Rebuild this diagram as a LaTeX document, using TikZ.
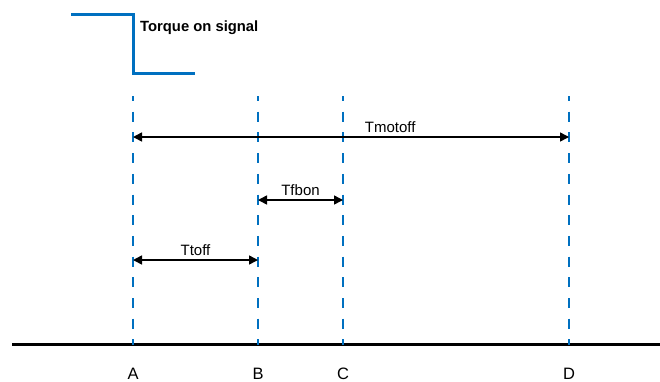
\documentclass[tikz,border=0pt]{standalone}
\usepackage{fontspec}
\setmainfont{Liberation Sans}
\usetikzlibrary{arrows.meta}
\definecolor{sigblue}{RGB}{0,112,192}
\tikzset{
  marker/.style={sigblue,line width=2pt,dash pattern=on 10pt off 10.7pt,dash phase=5pt},
  span/.style={{Triangle[length=9pt,width=9pt]}-{Triangle[length=9pt,width=9pt]},line width=1.5pt},
  lbl/.style={font=\fontsize{15}{17}\selectfont,inner sep=1pt},
}
\begin{document}
\begin{tikzpicture}[x=1pt,y=-1pt]
    \useasboundingbox (0,0) rectangle (660,381);
    % signal step
    \draw[sigblue,line width=3pt] (71,14) -- (133,14) -- (133,73) coordinate (s0) -- (195,73);
    \node[lbl,font=\fontsize{14.8}{16}\selectfont\bfseries,anchor=west] (sig) at (139,28) {Torque on signal};
    % time axis
    \draw[line width=2.5pt] (12,344.5) coordinate (t0) -- (660,344.5) coordinate (t1);
    \foreach \n/\x in {A/133,B/258,C/343,D/569}{
        \coordinate (\n top) at (\x,96);
        \coordinate (\n) at (\x,344.5);
        \draw[marker] (\n top) -- (\n);
        \node[lbl,font=\fontsize{16.5}{18}\selectfont,anchor=base] (lab\n) at (\x,379) {\n};
    }
    % intervals
    \draw[span] (A |- 0,137) -- node[lbl,pos=0.59,above=3pt] (motoff) {Tmotoff} (D |- 0,137);
    \draw[span] (B |- 0,200) -- node[lbl,above=3pt] (fbon) {Tfbon} (C |- 0,200);
    \draw[span] (A |- 0,260) -- node[lbl,above=3pt] (toff) {Ttoff} (B |- 0,260);
\end{tikzpicture}
\end{document}
